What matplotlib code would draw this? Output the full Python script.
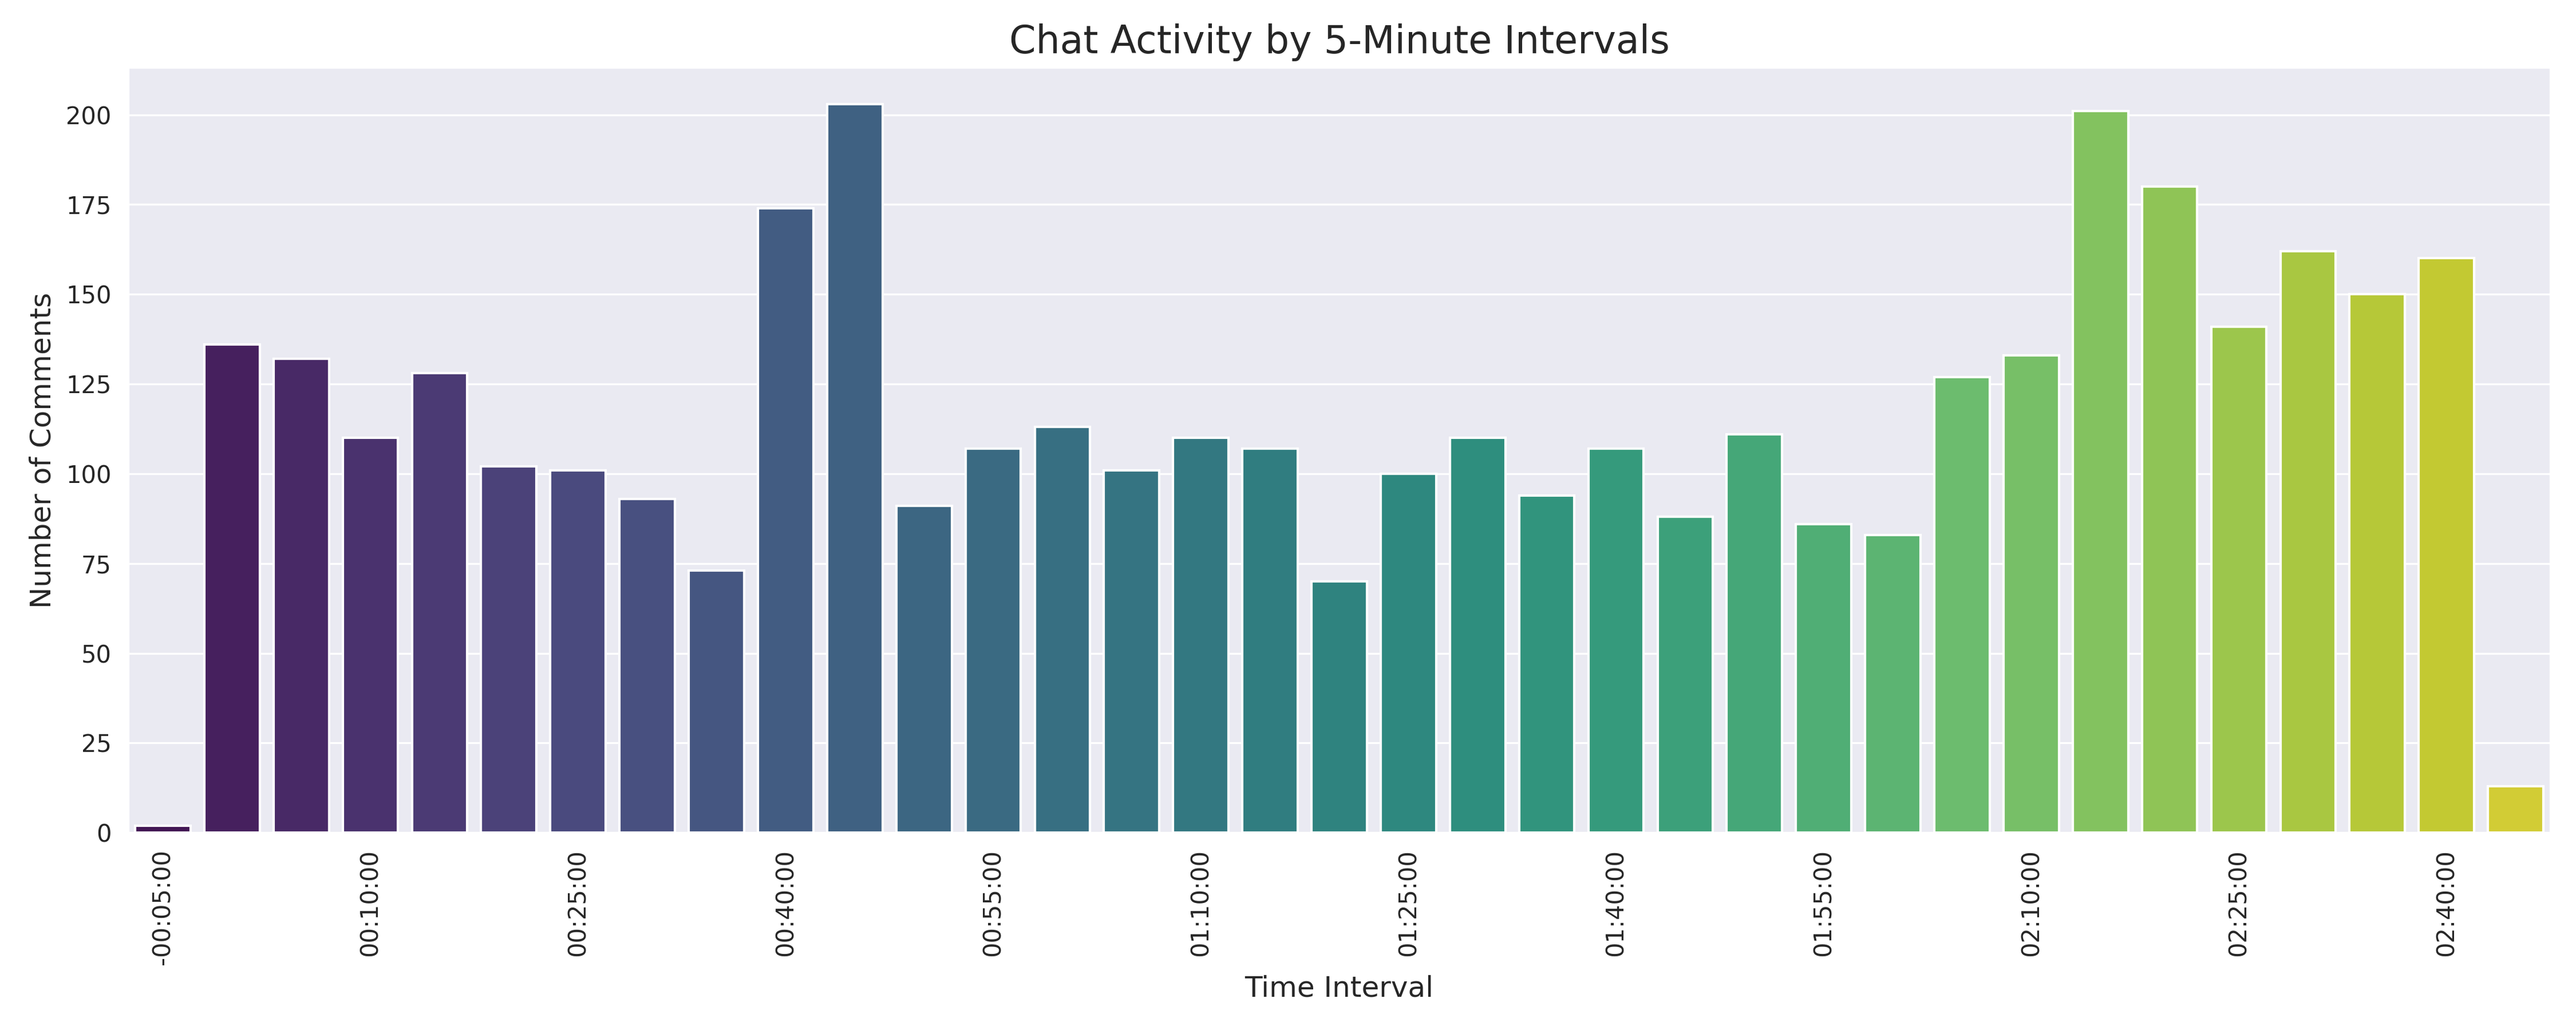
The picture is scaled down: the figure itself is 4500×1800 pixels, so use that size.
import pandas as pd
import seaborn as sns
import matplotlib
matplotlib.use("Agg")
import matplotlib.pyplot as plt

# 5-minute intervals starting at -00:05:00
intervals = [
    "-00:05:00", "00:00:00", "00:05:00", "00:10:00", "00:15:00", "00:20:00", "00:25:00",
    "00:30:00", "00:35:00", "00:40:00", "00:45:00", "00:50:00", "00:55:00", "01:00:00",
    "01:05:00", "01:10:00", "01:15:00", "01:20:00", "01:25:00", "01:30:00", "01:35:00",
    "01:40:00", "01:45:00", "01:50:00", "01:55:00", "02:00:00", "02:05:00", "02:10:00",
    "02:15:00", "02:20:00", "02:25:00", "02:30:00", "02:35:00", "02:40:00", "02:45:00",
]
comments = [
    2, 136, 132, 110, 128, 102, 101, 93, 73, 174, 203, 91, 107, 113, 101, 110, 107, 70,
    100, 110, 94, 107, 88, 111, 86, 83, 127, 133, 201, 180, 141, 162, 150, 160, 13,
]

df = pd.DataFrame({"interval": intervals, "count": comments})

sns.set_style("darkgrid")

plt.figure(figsize=(15, 6))
ax = sns.barplot(data=df, x="interval", y="count", hue="interval",
                 palette="viridis", legend=False)

ticks = list(range(0, len(intervals), 3))
ax.set_xticks(ticks)
ax.set_xticklabels([intervals[i] for i in ticks], rotation=90)

plt.title("Chat Activity by 5-Minute Intervals", fontsize=16)
plt.xlabel("Time Interval", fontsize=12)
plt.ylabel("Number of Comments", fontsize=12)
plt.tight_layout()

plt.savefig("out.png", dpi=300)
